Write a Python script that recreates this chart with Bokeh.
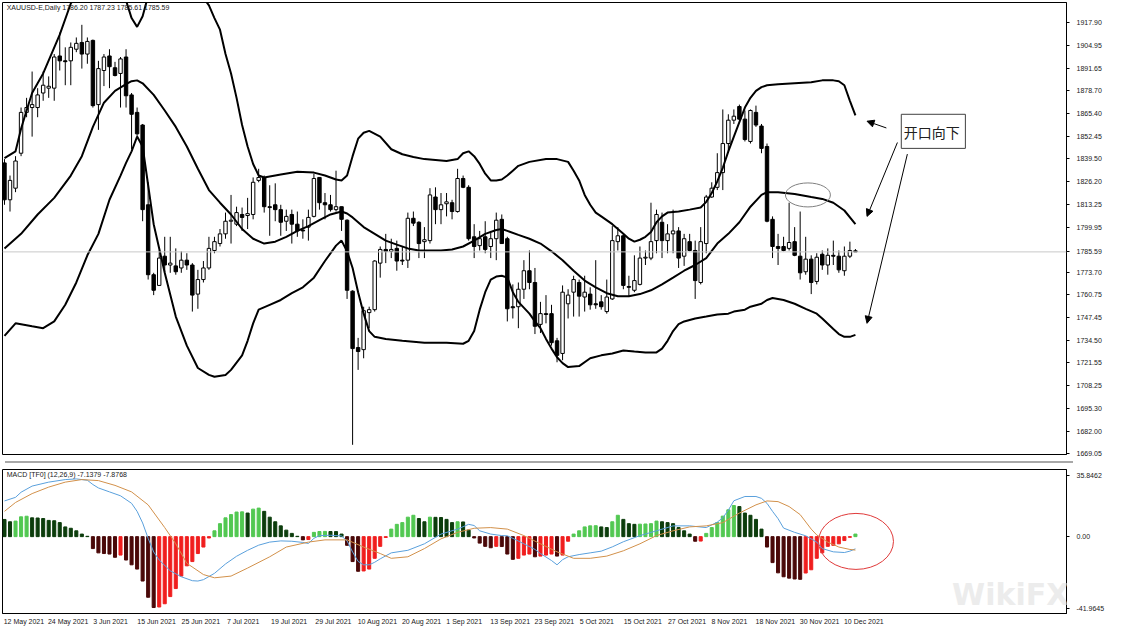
from bokeh.plotting import figure
from bokeh.layouts import column
from bokeh.models import (Range1d, FixedTicker, Span, Label,
                          Arrow, NormalHead, ColumnDataSource, Div)
from bokeh.embed import file_html
from bokeh.resources import INLINE

# ---------------- data ----------------
date_labels = ["12 May 2021", "24 May 2021", "3 Jun 2021", "15 Jun 2021", "25 Jun 2021",
               "7 Jul 2021", "19 Jul 2021", "29 Jul 2021", "10 Aug 2021", "20 Aug 2021",
               "1 Sep 2021", "13 Sep 2021", "23 Sep 2021", "5 Oct 2021", "15 Oct 2021",
               "27 Oct 2021", "8 Nov 2021", "18 Nov 2021", "30 Nov 2021", "10 Dec 2021"]
date_label_bars = [0, 8, 16, 24, 32, 40, 48, 56, 64, 72, 80, 88, 96, 104, 112, 120, 128, 136, 144, 152]

price_ticks = [1917.90, 1904.95, 1891.65, 1878.70, 1865.40, 1852.45, 1839.50, 1826.20, 1813.25,
               1799.95, 1773.70, 1760.75, 1747.45, 1734.50, 1721.55, 1708.25, 1695.30, 1682.00, 1669.05]
macd_ticks = [35.8462, 0.0, -41.9645]
last_price = 1785.59

opens = [1837.0, 1815.7, 1822.4, 1842.6, 1866.2, 1869.0, 1869.0, 1877.4, 1880.2, 1880.2,
         1898.8, 1896.0, 1896.0, 1902.7, 1906.6, 1899.9, 1907.8, 1870.7, 1890.4, 1898.8,
         1892.0, 1888.7, 1898.2, 1876.3, 1866.2, 1858.9, 1812.8, 1772.4, 1766.2, 1783.1,
         1778.0, 1777.5, 1776.3, 1780.8, 1778.0, 1761.2, 1769.6, 1776.3, 1786.4, 1790.4,
         1796.0, 1803.3, 1801.6, 1807.2, 1806.6, 1807.2, 1826.9, 1828.6, 1811.7, 1812.8,
         1810.0, 1803.3, 1807.2, 1801.6, 1798.2, 1799.9, 1806.1, 1828.6, 1814.0, 1812.8,
         1810.0, 1811.7, 1803.9, 1762.9, 1730.3, 1729.1, 1750.5, 1752.2, 1779.1, 1787.0,
         1785.9, 1787.6, 1780.8, 1780.8, 1805.0, 1802.7, 1791.5, 1792.1, 1817.3, 1810.0,
         1813.4, 1814.0, 1808.9, 1828.0, 1822.9, 1794.3, 1789.2, 1794.3, 1788.7, 1793.2,
         1804.4, 1793.2, 1753.9, 1753.9, 1764.0, 1774.7, 1767.9, 1743.7, 1749.9, 1749.9,
         1734.2, 1726.9, 1755.6, 1762.3, 1767.9, 1759.5, 1761.2, 1755.6, 1756.7, 1751.1,
         1758.4, 1791.5, 1794.9, 1765.6, 1763.4, 1766.8, 1782.0, 1782.0, 1792.1, 1802.7,
         1792.1, 1796.0, 1797.7, 1783.1, 1791.5, 1786.4, 1767.9, 1790.4, 1817.3, 1822.9,
         1831.4, 1848.2, 1861.7, 1869.6, 1862.3, 1849.4, 1866.2, 1858.3, 1846.5, 1804.4,
         1788.7, 1788.7, 1787.6, 1791.5, 1783.1, 1774.1, 1781.4, 1768.5, 1784.2, 1778.0,
         1783.6, 1783.1, 1774.7, 1783.1, 1786.20]
highs = [1839.2, 1829.7, 1840.9, 1869.0, 1874.6, 1889.8, 1880.2, 1889.8, 1887.0, 1899.9,
         1912.3, 1903.8, 1906.6, 1909.5, 1916.8, 1909.5, 1908.3, 1896.0, 1899.9, 1902.7,
         1895.4, 1898.2, 1902.7, 1877.4, 1869.0, 1859.5, 1825.8, 1773.5, 1786.4, 1794.3,
         1794.3, 1787.6, 1785.9, 1784.8, 1779.1, 1775.2, 1780.3, 1794.3, 1794.3, 1798.8,
         1808.3, 1818.5, 1811.7, 1811.2, 1816.8, 1828.6, 1833.6, 1829.7, 1824.1, 1825.2,
         1812.8, 1810.0, 1810.0, 1808.9, 1804.4, 1810.0, 1830.8, 1828.6, 1819.6, 1818.5,
         1832.5, 1811.7, 1804.4, 1763.4, 1735.9, 1753.9, 1753.9, 1780.8, 1788.7, 1796.0,
         1793.2, 1792.1, 1788.7, 1808.3, 1808.9, 1803.3, 1799.9, 1822.4, 1822.9, 1819.6,
         1819.6, 1815.7, 1833.6, 1829.7, 1824.1, 1801.6, 1797.7, 1803.3, 1797.7, 1808.3,
         1807.2, 1794.3, 1766.8, 1767.9, 1780.8, 1786.4, 1776.3, 1756.7, 1760.6, 1755.0,
         1735.9, 1766.2, 1764.0, 1771.8, 1769.6, 1771.8, 1765.1, 1780.8, 1760.6, 1769.6,
         1800.5, 1799.9, 1796.0, 1771.8, 1783.6, 1788.7, 1786.4, 1814.0, 1810.0, 1808.3,
         1801.6, 1810.0, 1799.9, 1796.0, 1796.0, 1792.1, 1799.9, 1818.5, 1825.8, 1842.6,
         1867.9, 1865.1, 1867.9, 1870.7, 1867.3, 1867.9, 1870.1, 1859.5, 1848.2, 1806.1,
         1796.0, 1794.3, 1814.0, 1799.9, 1808.9, 1794.3, 1783.6, 1784.8, 1786.4, 1787.6,
         1792.1, 1786.4, 1788.7, 1791.5, 1787.23]
lows = [1812.8, 1808.9, 1820.1, 1840.9, 1863.4, 1852.2, 1863.4, 1872.9, 1874.6, 1872.9,
        1890.4, 1881.9, 1881.9, 1901.0, 1891.5, 1894.3, 1869.0, 1856.1, 1881.4, 1880.2,
        1887.0, 1869.0, 1869.0, 1844.9, 1852.2, 1803.3, 1769.6, 1760.6, 1766.2, 1773.5,
        1773.5, 1772.4, 1773.5, 1775.2, 1751.1, 1752.7, 1767.9, 1775.2, 1784.8, 1788.7,
        1793.2, 1790.4, 1800.5, 1797.7, 1798.8, 1804.4, 1825.8, 1808.3, 1794.9, 1803.3,
        1794.9, 1797.7, 1790.4, 1794.3, 1793.2, 1792.1, 1805.5, 1810.0, 1804.4, 1808.9,
        1808.9, 1797.7, 1758.4, 1674.1, 1717.4, 1724.1, 1741.5, 1751.1, 1770.7, 1779.1,
        1782.0, 1774.7, 1778.0, 1776.3, 1800.5, 1782.0, 1782.0, 1790.4, 1801.6, 1801.6,
        1806.1, 1804.4, 1808.3, 1822.4, 1792.1, 1782.0, 1786.4, 1784.8, 1782.0, 1780.8,
        1790.4, 1745.4, 1747.1, 1741.5, 1758.4, 1764.0, 1738.1, 1738.7, 1744.3, 1731.4,
        1721.8, 1723.0, 1747.1, 1748.2, 1748.2, 1751.1, 1752.2, 1752.7, 1752.2, 1749.9,
        1757.8, 1786.4, 1764.0, 1759.5, 1762.3, 1766.2, 1778.0, 1780.8, 1784.8, 1782.0,
        1784.8, 1784.8, 1776.3, 1777.5, 1785.9, 1758.4, 1766.8, 1784.8, 1816.8, 1821.3,
        1821.3, 1843.7, 1859.5, 1861.7, 1849.4, 1848.2, 1857.8, 1842.6, 1802.7, 1782.0,
        1778.0, 1785.9, 1786.4, 1783.1, 1769.6, 1772.4, 1761.2, 1766.8, 1775.2, 1772.4,
        1778.0, 1773.5, 1771.8, 1782.0, 1785.61]
closes = [1815.7, 1826.9, 1838.1, 1866.2, 1869.0, 1870.7, 1876.3, 1881.9, 1881.3, 1898.2,
          1896.0, 1895.5, 1903.8, 1906.1, 1899.9, 1907.2, 1870.1, 1891.5, 1898.2, 1892.6,
          1887.5, 1897.1, 1875.8, 1865.1, 1853.8, 1810.0, 1772.4, 1763.4, 1782.0, 1778.0,
          1779.1, 1774.1, 1780.8, 1778.0, 1760.6, 1769.6, 1776.3, 1787.6, 1791.5, 1796.0,
          1803.3, 1803.9, 1808.3, 1805.5, 1807.7, 1825.8, 1828.6, 1811.7, 1811.2, 1810.0,
          1802.7, 1806.1, 1801.6, 1797.7, 1797.7, 1805.5, 1828.0, 1814.0, 1812.8, 1810.0,
          1811.7, 1804.4, 1763.4, 1729.7, 1728.0, 1751.6, 1752.2, 1780.3, 1787.0, 1785.9,
          1787.0, 1780.3, 1780.3, 1805.0, 1802.2, 1790.4, 1792.6, 1818.5, 1810.0, 1812.8,
          1814.5, 1808.9, 1828.0, 1822.9, 1793.2, 1788.7, 1793.2, 1787.0, 1793.2, 1803.9,
          1790.4, 1752.7, 1753.3, 1764.0, 1774.7, 1767.9, 1742.6, 1749.9, 1749.4, 1733.1,
          1725.8, 1762.3, 1760.6, 1769.6, 1760.0, 1762.3, 1755.0, 1755.0, 1753.9, 1759.5,
          1792.1, 1794.9, 1766.2, 1765.1, 1769.0, 1782.0, 1782.5, 1791.5, 1807.2, 1792.1,
          1796.0, 1797.7, 1782.0, 1793.2, 1786.4, 1769.0, 1791.5, 1817.3, 1822.4, 1831.4,
          1848.2, 1861.7, 1864.0, 1862.3, 1850.5, 1867.3, 1858.9, 1845.4, 1803.3, 1788.7,
          1787.6, 1786.4, 1791.0, 1783.6, 1773.5, 1781.4, 1767.9, 1782.5, 1778.0, 1783.6,
          1783.1, 1775.2, 1783.1, 1786.4, 1785.59]

# Bollinger bands (20, 2) read at bar positions
bb_up_idx = [0, 2, 3, 4, 5, 7, 10, 12, 14, 17, 20, 22, 23, 24, 25, 26, 28, 31, 34, 36,
             37, 38, 39, 40, 41, 42, 43, 44, 45, 46, 47, 50, 53, 56, 58, 60, 61, 62, 63, 64,
             65, 66, 68, 70, 72, 74, 76, 78, 80, 82, 83, 84, 85, 86, 87, 88, 89, 90, 91, 92,
             93, 95, 98, 100, 102, 103, 104, 105, 106, 107, 108, 110, 112, 113, 114, 115, 116, 117, 118, 119,
             120, 122, 124, 126, 127, 128, 129, 130, 131, 132, 133, 134, 135, 136, 137, 138, 140, 143, 146, 148,
             150, 151, 152, 153, 154]
bb_up = [1839.8, 1843.7, 1856.7, 1867.3, 1877.4, 1888.7, 1911.1, 1929.1, 1938.0, 1948.0,
         1942.0, 1930.8, 1920.7, 1915.6, 1921.8, 1933.6, 1945.0, 1952.0, 1945.0, 1932.5,
         1928.0, 1920.7, 1914.0, 1899.9, 1888.7, 1874.6, 1858.9, 1846.5, 1836.4, 1829.7,
         1828.6, 1830.3, 1831.9, 1831.4, 1829.7, 1827.4, 1826.9, 1829.7, 1840.9, 1851.0,
         1854.4, 1855.5, 1852.2, 1844.9, 1842.0, 1840.4, 1839.2, 1838.7, 1838.1, 1839.2,
         1842.6, 1843.7, 1840.9, 1836.4, 1830.8, 1826.9, 1826.9, 1827.4, 1829.7, 1832.5,
         1835.3, 1837.6, 1839.2, 1839.2, 1837.6, 1832.5, 1826.9, 1818.5, 1812.8, 1808.3,
         1806.1, 1801.6, 1796.0, 1793.2, 1791.5, 1792.6, 1794.3, 1797.1, 1802.7, 1806.1,
         1808.3, 1808.9, 1810.0, 1811.2, 1814.5, 1819.6, 1826.3, 1834.2, 1843.7, 1852.2,
         1860.6, 1869.0, 1874.6, 1878.6, 1880.8, 1881.9, 1882.5, 1883.1, 1883.6, 1884.7,
         1884.7, 1884.2, 1881.9, 1872.9, 1864.5]

bb_mid_idx = [0, 3, 6, 9, 12, 14, 16, 18, 20, 22, 23, 24, 25, 27, 29, 31, 33, 35, 37, 39,
              41, 43, 45, 47, 49, 51, 53, 55, 57, 59, 61, 62, 63, 65, 67, 69, 71, 73, 75, 77,
              79, 81, 83, 85, 87, 89, 90, 91, 93, 95, 97, 99, 101, 103, 105, 107, 109, 111, 113, 115,
              117, 119, 121, 123, 125, 127, 129, 131, 133, 135, 137, 138, 140, 143, 146, 148, 150, 152, 154]
bb_mid = [1787.6, 1796.0, 1807.2, 1816.8, 1829.7, 1840.9, 1857.8, 1871.8, 1878.6, 1882.5,
          1884.2, 1884.7, 1883.0, 1876.3, 1867.3, 1857.8, 1846.5, 1833.6, 1821.3, 1814.0,
          1807.2, 1798.8, 1793.2, 1790.4, 1791.5, 1794.3, 1797.7, 1800.5, 1803.9, 1807.2,
          1808.9, 1807.8, 1805.5, 1799.9, 1796.0, 1792.1, 1789.8, 1787.6, 1786.4, 1786.4,
          1786.4, 1787.0, 1788.7, 1792.1, 1796.0, 1798.2, 1798.8, 1797.7, 1795.4, 1793.2,
          1790.4, 1785.9, 1780.8, 1774.7, 1769.0, 1765.1, 1761.7, 1760.0, 1760.0, 1761.2,
          1763.4, 1766.8, 1770.7, 1774.7, 1778.0, 1782.0, 1790.4, 1796.0, 1802.7, 1811.7,
          1818.5, 1820.1, 1820.1, 1819.0, 1817.3, 1816.2, 1814.0, 1809.5, 1801.6]

bb_lo_idx = [0, 2, 5, 7, 9, 11, 13, 15, 17, 19, 21, 22, 23, 24, 25, 26, 27, 29, 31, 33,
             35, 37, 38, 40, 41, 43, 44, 45, 46, 48, 50, 52, 54, 56, 58, 60, 61, 62, 63, 64,
             65, 66, 67, 69, 72, 76, 80, 83, 84, 85, 86, 87, 88, 89, 90, 91, 92, 93, 95, 96,
             97, 98, 99, 100, 101, 102, 104, 106, 108, 110, 112, 114, 116, 118, 119, 120, 121, 122, 123, 125,
             127, 129, 131, 132, 134, 135, 137, 138, 139, 141, 143, 145, 147, 148, 150, 151, 152, 153, 154]
bb_lo = [1737.0, 1744.3, 1742.6, 1741.5, 1745.4, 1755.0, 1767.9, 1783.6, 1796.0, 1815.7,
         1829.7, 1837.0, 1843.7, 1852.2, 1846.5, 1824.1, 1801.6, 1773.5, 1748.2, 1731.4,
         1718.5, 1714.5, 1713.4, 1714.5, 1717.4, 1725.8, 1734.2, 1744.3, 1752.2, 1755.0,
         1757.8, 1761.7, 1765.1, 1770.7, 1780.3, 1789.2, 1792.1, 1785.9, 1776.3, 1762.3,
         1749.9, 1739.8, 1736.5, 1735.3, 1734.2, 1733.1, 1733.1, 1732.5, 1734.2, 1739.8,
         1752.2, 1762.3, 1769.6, 1771.3, 1771.8, 1770.7, 1762.3, 1756.7, 1749.9, 1745.4,
         1741.5, 1735.3, 1729.7, 1724.7, 1721.3, 1719.0, 1719.6, 1724.1, 1725.8, 1726.9,
         1728.6, 1728.0, 1727.5, 1727.5, 1729.7, 1734.2, 1739.8, 1743.8, 1745.4, 1747.1,
         1748.2, 1749.4, 1749.9, 1751.1, 1752.2, 1753.9, 1755.6, 1757.8, 1758.9, 1757.8,
         1755.6, 1752.7, 1749.9, 1747.1, 1741.0, 1738.1, 1736.5, 1736.5, 1737.6]

# MACD (12,26,9) histogram, one value per bar
macd_hist = [10.05, 8.7, 9.1, 11.6, 11.95, 11.0, 10.9, 10.6, 9.5, 9.3,
             8.2, 5.7, 4.9, 3.4, 1.5, 0.2, -7.0, -9.5, -9.9, -10.2,
             -12.1, -10.8, -13.7, -16.5, -19.0, -26.0, -35.5, -41.5, -41.2, -39.3,
             -35.1, -30.4, -23.1, -17.1, -14.6, -9.9, -6.1, -0.8, 3.4, 7.6,
             11.0, 12.9, 14.4, 14.5, 13.8, 16.1, 16.7, 14.8, 11.4, 8.7,
             6.3, 3.8, 1.9, 0.2, -1.9, -1.7, 2.5, 3.0, 3.05, 3.0,
             2.95, 1.5, -5.1, -14.6, -20.3, -20.1, -19.0, -12.7, -5.7, -0.5,
             4.4, 7.2, 8.2, 11.4, 12.5, 10.6, 8.7, 11.4, 11.3, 11.2,
             10.1, 8.2, 8.7, 8.6, 3.8, -0.8, -3.8, -5.7, -6.5, -5.7,
             -5.8, -10.2, -13.3, -12.7, -10.8, -10.2, -11.8, -11.4, -10.8, -10.2,
             -11.4, -10.8, -2.7, 1.5, 3.4, 5.7, 6.3, 6.4, 5.7, 5.3,
             8.7, 12.5, 10.1, 7.6, 7.2, 7.3, 7.4, 7.6, 9.1, 8.7,
             8.2, 7.6, 5.3, 3.4, 1.5, -2.7, -2.6, 1.9, 5.3, 8.2,
             12.0, 15.7, 18.2, 17.6, 13.8, 12.5, 10.1, 4.4, -6.1, -15.2,
             -21.2, -23.5, -24.3, -24.8, -25.0, -21.3, -19.4, -12.7, -9.5, -5.7,
             -5.1, -4.2, -2.3, -0.4, 1.5]

macd_idx = [0, 2, 3, 5, 8, 11, 13, 15, 16, 17, 19, 21, 23, 24, 25, 26, 27, 28, 30, 32,
            34, 35, 36, 38, 40, 42, 44, 46, 48, 50, 52, 54, 55, 56, 57, 59, 61, 62, 63, 64,
            65, 66, 67, 68, 70, 73, 76, 79, 82, 84, 85, 86, 88, 90, 91, 92, 94, 96, 97, 99,
            100, 101, 102, 104, 106, 108, 110, 112, 115, 118, 121, 124, 127, 129, 130, 131, 132, 134, 136, 137,
            138, 139, 140, 141, 143, 145, 147, 148, 150, 152, 153, 154]
macd_line = [20.9, 23.0, 26.0, 29.6, 31.9, 33.4, 33.8, 33.0, 30.5, 28.5,
             26.2, 23.9, 19.5, 14.8, 8.0, -1.0, -9.0, -13.7, -20.0, -23.5,
             -25.8, -26.0, -25.2, -21.5, -16.0, -11.5, -8.0, -5.0, -3.2, -2.5,
             -2.7, -3.4, -4.0, -1.0, 0.6, 0.8, 0.4, -2.5, -9.0, -14.5,
             -16.5, -16.5, -15.0, -13.0, -9.5, -8.0, -4.2, 1.5, 4.4, 7.2,
             6.5, 3.4, 1.5, 0.6, 0.5, -1.0, -4.2, -7.5, -9.9, -14.0,
             -16.5, -13.5, -11.8, -10.5, -9.5, -8.5, -6.0, -3.0, 0.6, 3.4,
             6.3, 6.3, 5.3, 8.5, 11.0, 15.5, 21.0, 23.5, 23.5, 22.4,
             19.5, 14.8, 10.5, 5.0, 2.5, 0.5, -3.2, -7.0, -8.9, -9.3,
             -8.5, -7.1379]

signal_idx = [0, 2, 5, 8, 11, 14, 17, 20, 23, 26, 29, 31, 33, 36, 38, 41, 44, 48, 51, 55,
              58, 62, 65, 68, 70, 73, 76, 79, 82, 85, 88, 91, 94, 97, 100, 103, 106, 109, 112, 115,
              118, 121, 124, 127, 130, 133, 136, 138, 140, 142, 144, 146, 147, 149, 151, 153, 154]
signal_line = [14.8, 20.0, 25.2, 29.0, 31.9, 33.4, 32.8, 30.0, 26.2, 18.6,
               5.3, -4.2, -15.6, -22.2, -24.1, -23.1, -18.4, -11.8, -6.1, -3.2,
               -1.9, -1.9, -6.1, -9.9, -12.7, -11.8, -7.0, -1.3, 2.5, 4.9,
               5.3, 4.4, 0.6, -4.2, -8.9, -12.7, -12.7, -11.4, -8.3, -4.2,
               0.6, 3.4, 5.7, 6.3, 8.2, 13.8, 18.6, 20.9, 20.5, 17.6,
               12.9, 4.4, 1.0, -3.2, -6.1, -7.5, -7.8768]

# ---------------- layout constants ----------------
FRAME_W = 1064
FONT = "Liberation Sans"
FS = "7px"
X_RANGE = Range1d(-0.36, 192.2)

# ---------------- main price panel ----------------
p = figure(frame_width=FRAME_W, frame_height=452, x_range=X_RANGE, y_range=Range1d(1668.5, 1929.7),
           x_axis_location=None, y_axis_location="right",
           toolbar_location=None, output_backend="svg",
           min_border_left=2, min_border_right=0, min_border_top=2, min_border_bottom=2)
p.grid.visible = False
p.outline_line_color = "black"
p.outline_line_width = 1
axis_ticks = price_ticks + [last_price]
p.yaxis.ticker = FixedTicker(ticks=axis_ticks)
p.yaxis.major_label_overrides = {t: f"{t:.2f}" for t in axis_ticks}
p.yaxis.major_label_text_font = FONT
p.yaxis.major_label_text_font_size = FS
p.yaxis.major_label_text_color = "#202020"
p.yaxis.major_tick_out = 3
p.yaxis.major_tick_in = 0
p.yaxis.minor_tick_out = 0
p.yaxis.minor_tick_in = 0
p.yaxis.major_label_standoff = 7
p.yaxis.axis_line_color = "black"

p.add_layout(Span(location=last_price, dimension="width", line_color="#c8c8c8", line_width=1))

n = len(opens)
bars = list(range(n))
csrc = ColumnDataSource(dict(
    x=bars, h=highs, l=lows,
    top=[max(o, c) for o, c in zip(opens, closes)],
    bot=[min(o, c) for o, c in zip(opens, closes)],
    fill=["white" if c >= o else "black" for o, c in zip(opens, closes)],
))
p.segment(x0="x", y0="h", x1="x", y1="l", source=csrc, line_color="black", line_width=1)
p.vbar(x="x", top="top", bottom="bot", width=0.62, source=csrc,
       fill_color="fill", line_color="black", line_width=1)

p.line(bb_up_idx, bb_up, line_color="black", line_width=2)
p.line(bb_mid_idx, bb_mid, line_color="black", line_width=2)
p.line(bb_lo_idx, bb_lo, line_color="black", line_width=2)

p.add_layout(Label(x=0.4, y=1928.6, text="XAUUSD-E,Daily  1786.20 1787.23 1785.61 1785.59",
                   text_font=FONT, text_font_size=FS, text_baseline="top", text_color="#202020"))

# annotation: ellipse on the middle band
p.ellipse(x=[145.4], y=[1818.5], width=45, height=24, width_units="screen",
          height_units="screen", fill_color=None, line_color="#808080", line_width=1)

# annotation box with text
p.quad(left=[162.3], right=[173.9], top=[1865.1], bottom=[1845.4],
       fill_color="white", line_color="#404040", line_width=1)
p.add_layout(Label(x=162.75, y=1855.0, text="开口向下", text_font="Noto Sans CJK SC",
                   text_font_size="14px", text_baseline="middle", text_color="#202020"))

head = dict(size=7, fill_color="black", line_color="black")
p.add_layout(Arrow(end=NormalHead(**head), x_start=159.6, y_start=1857.2, x_end=156.1, y_end=1861.1,
                   line_color="black", line_width=1))
p.add_layout(Arrow(end=NormalHead(**head), x_start=161.6, y_start=1848.8, x_end=156.1, y_end=1806.1,
                   line_color="black", line_width=1))
p.add_layout(Arrow(end=NormalHead(**head), x_start=163.4, y_start=1842.1, x_end=156.1, y_end=1744.3,
                   line_color="black", line_width=1))

# ---------------- separator ----------------
sep = Div(width=FRAME_W + 4, height=2, styles={"background-color": "#a8a8a8"})

# ---------------- MACD panel ----------------
m = figure(frame_width=FRAME_W, frame_height=144, x_range=X_RANGE, y_range=Range1d(-45.0, 39.3),
           y_axis_location="right", toolbar_location=None, output_backend="svg",
           min_border_left=2, min_border_right=0, min_border_top=1, min_border_bottom=14)
m.grid.visible = False
m.outline_line_color = "black"
m.yaxis.ticker = FixedTicker(ticks=macd_ticks)
m.yaxis.major_label_overrides = {35.8462: "35.8462", 0.0: "0.00", -41.9645: "-41.9645"}

# labels sit to the right of their bar (MT4 style): place each tick at the label centre
label_ticks = [round(b + 0.32 * len(lab), 2) for b, lab in zip(date_label_bars, date_labels)]
m.xaxis.ticker = FixedTicker(ticks=label_ticks)
m.xaxis.major_label_overrides = {t: lab for t, lab in zip(label_ticks, date_labels)}
for ax in (m.xaxis, m.yaxis):
    ax.major_label_text_font = FONT
    ax.major_label_text_font_size = FS
    ax.major_label_text_color = "#202020"
    ax.major_tick_in = 0
    ax.minor_tick_out = 0
    ax.minor_tick_in = 0
    ax.axis_line_color = "black"
m.xaxis.major_tick_out = 0
m.xaxis.major_label_standoff = 4
m.yaxis.major_tick_out = 3
m.yaxis.major_label_standoff = 7

hist_colors = []
prev = None
for v in macd_hist:
    rising = prev is not None and v > prev
    if v >= 0:
        hist_colors.append("#52c852" if rising else "#0c3d0c")
    else:
        hist_colors.append("#f01e1e" if rising else "#4a0808")
    prev = v
hsrc = ColumnDataSource(dict(x=bars, v=macd_hist, c=hist_colors))
m.vbar(x="x", top="v", bottom=0, width=0.55, source=hsrc, fill_color="c", line_color="c")

m.line(macd_idx, macd_line, line_color="#5aa0dc", line_width=1)
m.line(signal_idx, signal_line, line_color="#d2914b", line_width=1)

m.add_layout(Label(x=0.4, y=38.2, text="MACD [TF0] (12,26,9) -7.1379 -7.8768",
                   text_font=FONT, text_font_size=FS, text_baseline="top", text_color="#202020"))
m.ellipse(x=[154.1], y=[-2.8], width=75, height=56, width_units="screen",
          height_units="screen", fill_color=None, line_color="#e03a3a", line_width=1)
m.add_layout(Label(x=171.5, y=-34.0, text="WikiFX", text_font="DejaVu Sans",
                   text_font_size="30px", text_font_style="bold", text_color="#ececec",
                   text_baseline="middle"))

layout = column(p, sep, m, spacing=0)
open("out.html", "w").write(file_html(layout, INLINE))
